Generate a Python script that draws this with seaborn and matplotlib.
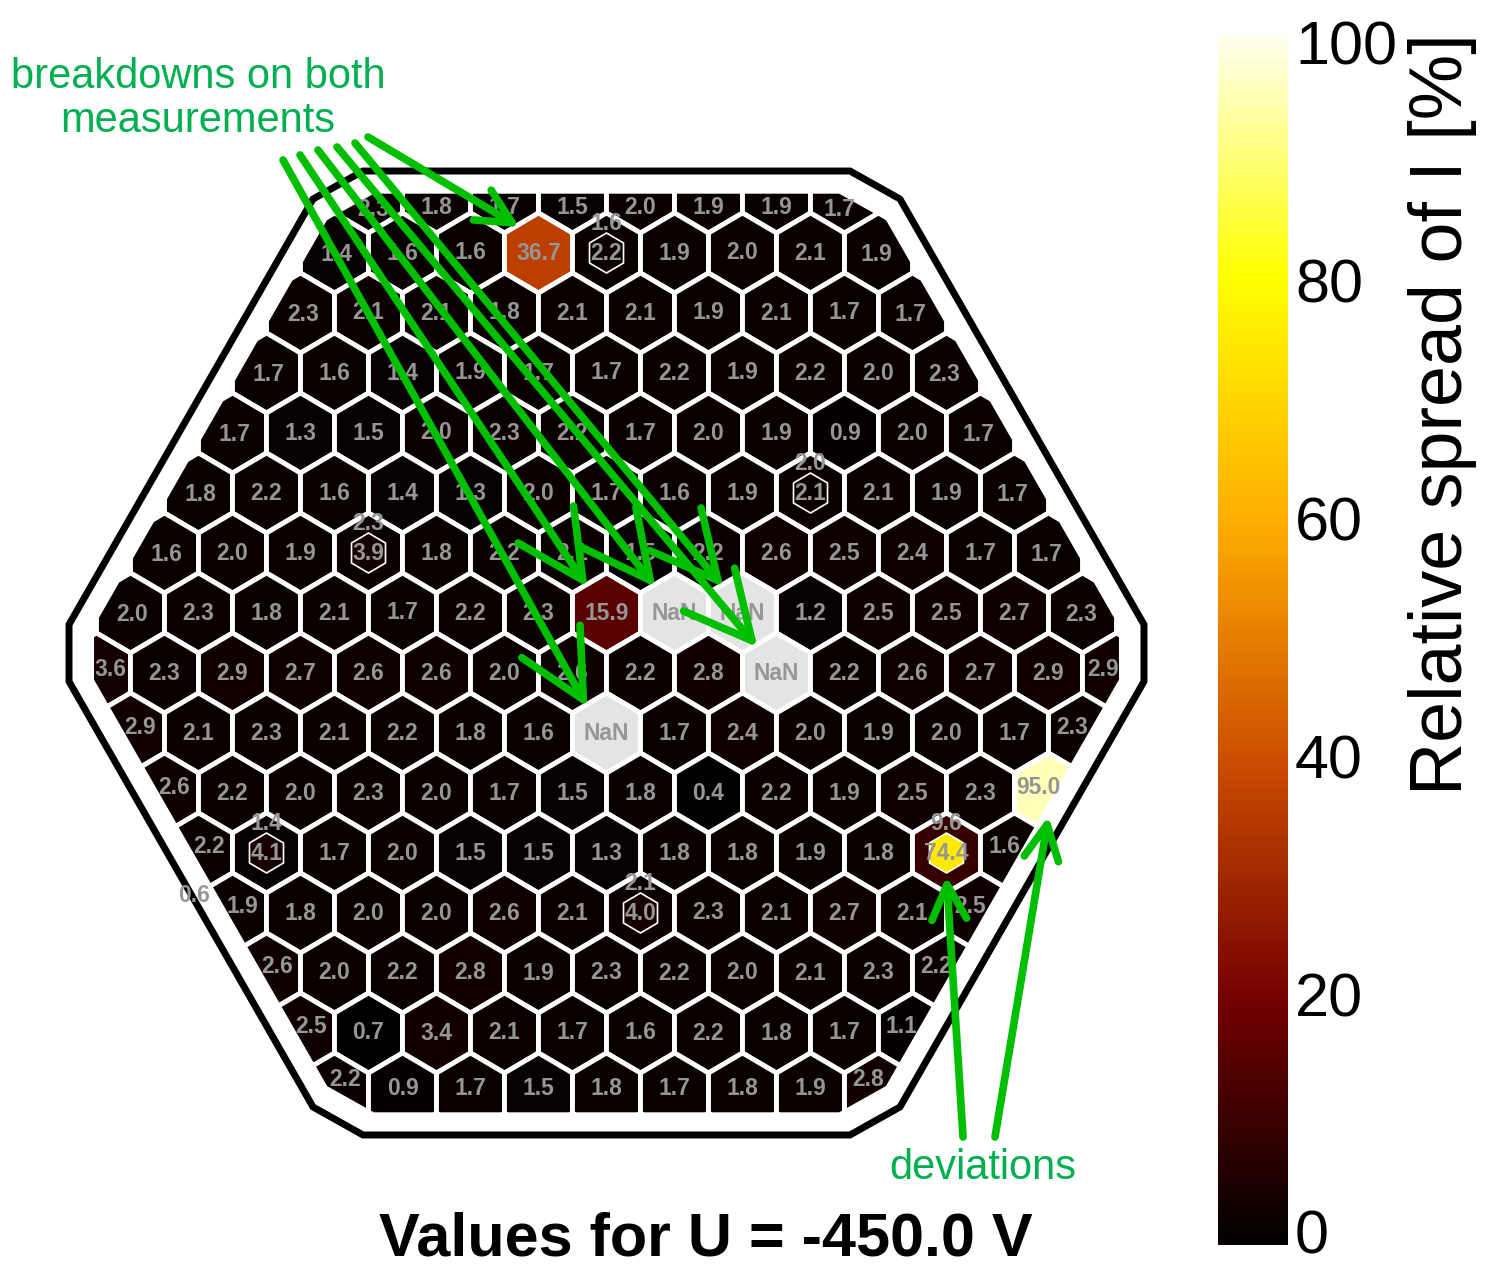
import numpy as np
import matplotlib
matplotlib.use("Agg")
import matplotlib.pyplot as plt
from matplotlib.collections import PolyCollection
from matplotlib.patches import FancyArrowPatch, Polygon
from matplotlib.colors import Normalize
import seaborn as sns

sns.set_theme(style="white")
plt.rcParams['font.family'] = ['Liberation Sans', 'DejaVu Sans']
plt.rcParams['text.color'] = 'black'
plt.rcParams['axes.labelcolor'] = 'black'
plt.rcParams['ytick.color'] = 'black'

nan = np.nan

# cell values, top row first (relative spread of I in %)
row00 = [2.3, 1.8, 1.7, 1.5, 2.0, 1.9, 1.9, 1.7]
row01 = [1.4, 1.6, 1.6, 36.7, 1.6, 1.9, 2.0, 2.1, 1.9]
row02 = [2.3, 2.1, 2.1, 1.8, 2.1, 2.1, 1.9, 2.1, 1.7, 1.7]
row03 = [1.7, 1.6, 1.4, 1.9, 1.7, 1.7, 2.2, 1.9, 2.2, 2.0, 2.3]
row04 = [1.7, 1.3, 1.5, 2.0, 2.3, 2.2, 1.7, 2.0, 1.9, 0.9, 2.0, 1.7]
row05 = [1.8, 2.2, 1.6, 1.4, 1.3, 2.0, 1.7, 1.6, 1.9, 2.0, 2.1, 1.9, 1.7]
row06 = [1.6, 2.0, 1.9, 2.3, 1.8, 2.2, 2.1, 1.5, 2.2, 2.6, 2.5, 2.4, 1.7, 1.7]
row07 = [2.0, 2.3, 1.8, 2.1, 1.7, 2.2, 2.3, 15.9, nan, nan, 1.2, 2.5, 2.5, 2.7, 2.3]
row08 = [3.6, 2.3, 2.9, 2.7, 2.6, 2.6, 2.0, 2.6, 2.2, 2.8, nan, 2.2, 2.6, 2.7, 2.9, 2.9]
row09 = [2.9, 2.1, 2.3, 2.1, 2.2, 1.8, 1.6, nan, 1.7, 2.4, 2.0, 1.9, 2.0, 1.7, 2.3]
row10 = [2.6, 2.2, 2.0, 2.3, 2.0, 1.7, 1.5, 1.8, 0.4, 2.2, 1.9, 2.5, 2.3, 95.0]
row11 = [2.2, 1.4, 1.7, 2.0, 1.5, 1.5, 1.3, 1.8, 1.8, 1.9, 1.8, 9.6, 1.6]
row12 = [0.6, 1.9, 1.8, 2.0, 2.0, 2.6, 2.1, 2.1, 2.3, 2.1, 2.7, 2.1, 2.5]
row13 = [2.6, 2.0, 2.2, 2.8, 1.9, 2.3, 2.2, 2.0, 2.1, 2.3, 2.2]
row14 = [2.5, 0.7, 3.4, 2.1, 1.7, 1.6, 2.2, 1.8, 1.7, 1.1]
row15 = [2.2, 0.9, 1.7, 1.5, 1.8, 1.7, 1.8, 1.9, 2.8]
rows = [row00, row01, row02, row03, row04, row05, row06, row07,
        row08, row09, row10, row11, row12, row13, row14, row15]
# x position of the first cell in each row (in cell pitches)
row_start = [-3.5, -4, -4.5, -5, -5.5, -6, -6.5, -7, -7.5, -7, -6.5, -6, -6.5, -5, -4.5, -4]

# small calibration cells inside a normal cell
calib_row = [1, 5, 6, 11, 11, 12]
calib_x = [0, 3, -3.5, -5, 5, 0.5]
calib_value = [2.2, 2.1, 3.9, 4.1, 74.4, 4.0]

# annotated cells (row, x)
breakdown_cells = [(9, 0), (7, 0), (7, 1), (8, 2.5), (7, 2), (1, -1)]
deviation_cells = [(11, 5), (10, 6.5)]

# geometry (units of one cell pitch, wafer centre at origin)
ROW_DY = 60 / 68
Y_TOP = 460 / 68
HV = ROW_DY / 1.5
hex_shape = np.array([(0, HV), (-0.5, HV / 2), (-0.5, -HV / 2),
                      (0, -HV), (0.5, -HV / 2), (0.5, HV / 2)])
quad = [(7.904, 0.419), (4.316, 6.676), (3.581, 7.088)]
outer = ([(7.904, -0.419)] + quad + [(-x, y) for x, y in quad[::-1]]
         + [(-x, -y) for x, y in quad] + [(x, -y) for x, y in quad[::-1]])
outer = np.array(outer)
inner = outer * 0.958

cmap = sns.blend_palette(["#000000", "#730000", "#cc4d00", "#ffae00", "#ffff00", "#fffff2"],
                         n_colors=256, as_cmap=True)
norm = Normalize(0, 100)
NAN_COLOR = "#e4e4e4"
LABEL_COLOR = "#969696"
TEXT_GREEN = "#00b050"
ARROW_GREEN = "#00be00"


def clip_polygon(subject, clipper):
    output = [tuple(p) for p in subject]
    n = len(clipper)
    for i in range(n):
        a, b = clipper[i], clipper[(i + 1) % n]
        inp, output = output, []
        if not inp:
            break

        def side(p):
            return (b[0] - a[0]) * (p[1] - a[1]) - (b[1] - a[1]) * (p[0] - a[0])

        prev = inp[-1]
        for cur in inp:
            sc, sp = side(cur), side(prev)
            if sc >= 0:
                if sp < 0:
                    t = sp / (sp - sc)
                    output.append((prev[0] + t * (cur[0] - prev[0]), prev[1] + t * (cur[1] - prev[1])))
                output.append(cur)
            elif sp >= 0:
                t = sp / (sp - sc)
                output.append((prev[0] + t * (cur[0] - prev[0]), prev[1] + t * (cur[1] - prev[1])))
            prev = cur
    return output


def centroid(poly):
    p = np.asarray(poly)
    x, y = p[:, 0], p[:, 1]
    x1, y1 = np.roll(x, -1), np.roll(y, -1)
    c = x * y1 - x1 * y
    a = c.sum() / 2
    if abs(a) < 1e-9:
        return p.mean(axis=0)
    return ((x + x1) * c).sum() / (6 * a), ((y + y1) * c).sum() / (6 * a)


def center(r, x):
    return x, Y_TOP - r * ROW_DY


def fmt(v):
    return "NaN" if np.isnan(v) else f"{v:.1f}"


fig = plt.figure(figsize=(14.88, 12.68), dpi=100)
ax = fig.add_axes([0, 0, 1, 1])
ax.set_xlim(-606.5 / 68, (1488 - 606.5) / 68)
ax.set_ylim((653 - 1268) / 68, 653 / 68)
ax.axis("off")

calib = {(r, x): v for r, x, v in zip(calib_row, calib_x, calib_value)}
polys, colors = [], []
small_polys, small_colors = [], []
label_kw = dict(ha="center", va="center", fontsize=16.5, fontweight="bold",
                color=LABEL_COLOR, zorder=5)

for r, (start, vals) in enumerate(zip(row_start, rows)):
    for k, v in enumerate(vals):
        x = start + k
        cx, cy = center(r, x)
        shape = hex_shape + (cx, cy)
        clipped = clip_polygon(shape, inner)
        if len(clipped) >= 3:
            polys.append(clipped)
            colors.append(NAN_COLOR if np.isnan(v) else cmap(norm(v)))
            lx, ly = centroid(clipped)
        else:
            part = clip_polygon(shape, outer)
            lx, ly = centroid(part) if len(part) >= 3 else (cx, cy)
        if (r, x) in calib:
            sv = calib[(r, x)]
            small_polys.append(hex_shape * 0.5 + (cx, cy))
            small_colors.append(cmap(norm(sv)))
            ax.text(cx, cy + 0.44, fmt(v), **label_kw)
            ax.text(cx, cy, fmt(sv), **label_kw)
        else:
            ax.text(lx, ly, fmt(v), **label_kw)

ax.add_collection(PolyCollection(polys, facecolors=colors, edgecolors="white",
                                 linewidths=3.5, zorder=2))
ax.add_collection(PolyCollection(small_polys, facecolors=small_colors, edgecolors="white",
                                 linewidths=1.2, zorder=3))
ax.add_patch(Polygon(outer, closed=True, fill=False, edgecolor="black", lw=5,
                     joinstyle="miter", zorder=4))

# annotations
breakdown_src = [(-4.757, 7.250), (-4.507, 7.324), (-4.243, 7.397),
                 (-3.963, 7.441), (-3.699, 7.500), (-3.507, 7.588)]
breakdown_head = [48, 48, 48, 48, 48, 25]
for src, (r, x), hs in zip(breakdown_src, breakdown_cells, breakdown_head):
    cx, cy = center(r, x)
    ax.add_patch(FancyArrowPatch(src, (cx - 0.28, cy + 0.38),
                                 arrowstyle="->,head_length=1.0,head_width=0.5",
                                 mutation_scale=hs, lw=5.5, color=ARROW_GREEN,
                                 shrinkA=0, shrinkB=0, zorder=7))

deviation_src = [(5.243, -7.118), (5.713, -7.118)]
for src, (r, x) in zip(deviation_src, deviation_cells):
    cx, cy = center(r, x)
    ax.add_patch(FancyArrowPatch(src, (cx, cy - 0.34),
                                 arrowstyle="->,head_length=1.0,head_width=0.5",
                                 mutation_scale=25, lw=5.5, color=ARROW_GREEN,
                                 shrinkA=0, shrinkB=0, zorder=7))

ax.text(-6.007, 8.15, "breakdowns on both\nmeasurements", color=TEXT_GREEN,
        fontsize=30, ha="center", va="center", linespacing=1.12, zorder=7)
ax.text(5.537, -7.574, "deviations", color=TEXT_GREEN, fontsize=30,
        ha="center", va="center", zorder=7)

# colorbar (bar drawn a little past 0 and 100, as in the original)
cax = fig.add_axes([1218 / 1488, 1 - 1245 / 1268, 70 / 1488, (1245 - 33) / 1268])
sm = plt.cm.ScalarMappable(norm=Normalize(-1.1, 100.8), cmap=cmap)
cb = fig.colorbar(sm, cax=cax)
cb.outline.set_visible(False)
cb.set_ticks([0, 20, 40, 60, 80, 100])
cax.tick_params(length=0, labelsize=44, pad=5, colors="black")
cb.set_label("Relative spread of I [%]", fontsize=53, loc="top", labelpad=8)

fig.text(706 / 1488, 1 - 1240 / 1268, "Values for U = -450.0 V", ha="center",
         va="center", fontsize=44, fontweight="bold", color="black")

fig.savefig("out.png", dpi=100)
